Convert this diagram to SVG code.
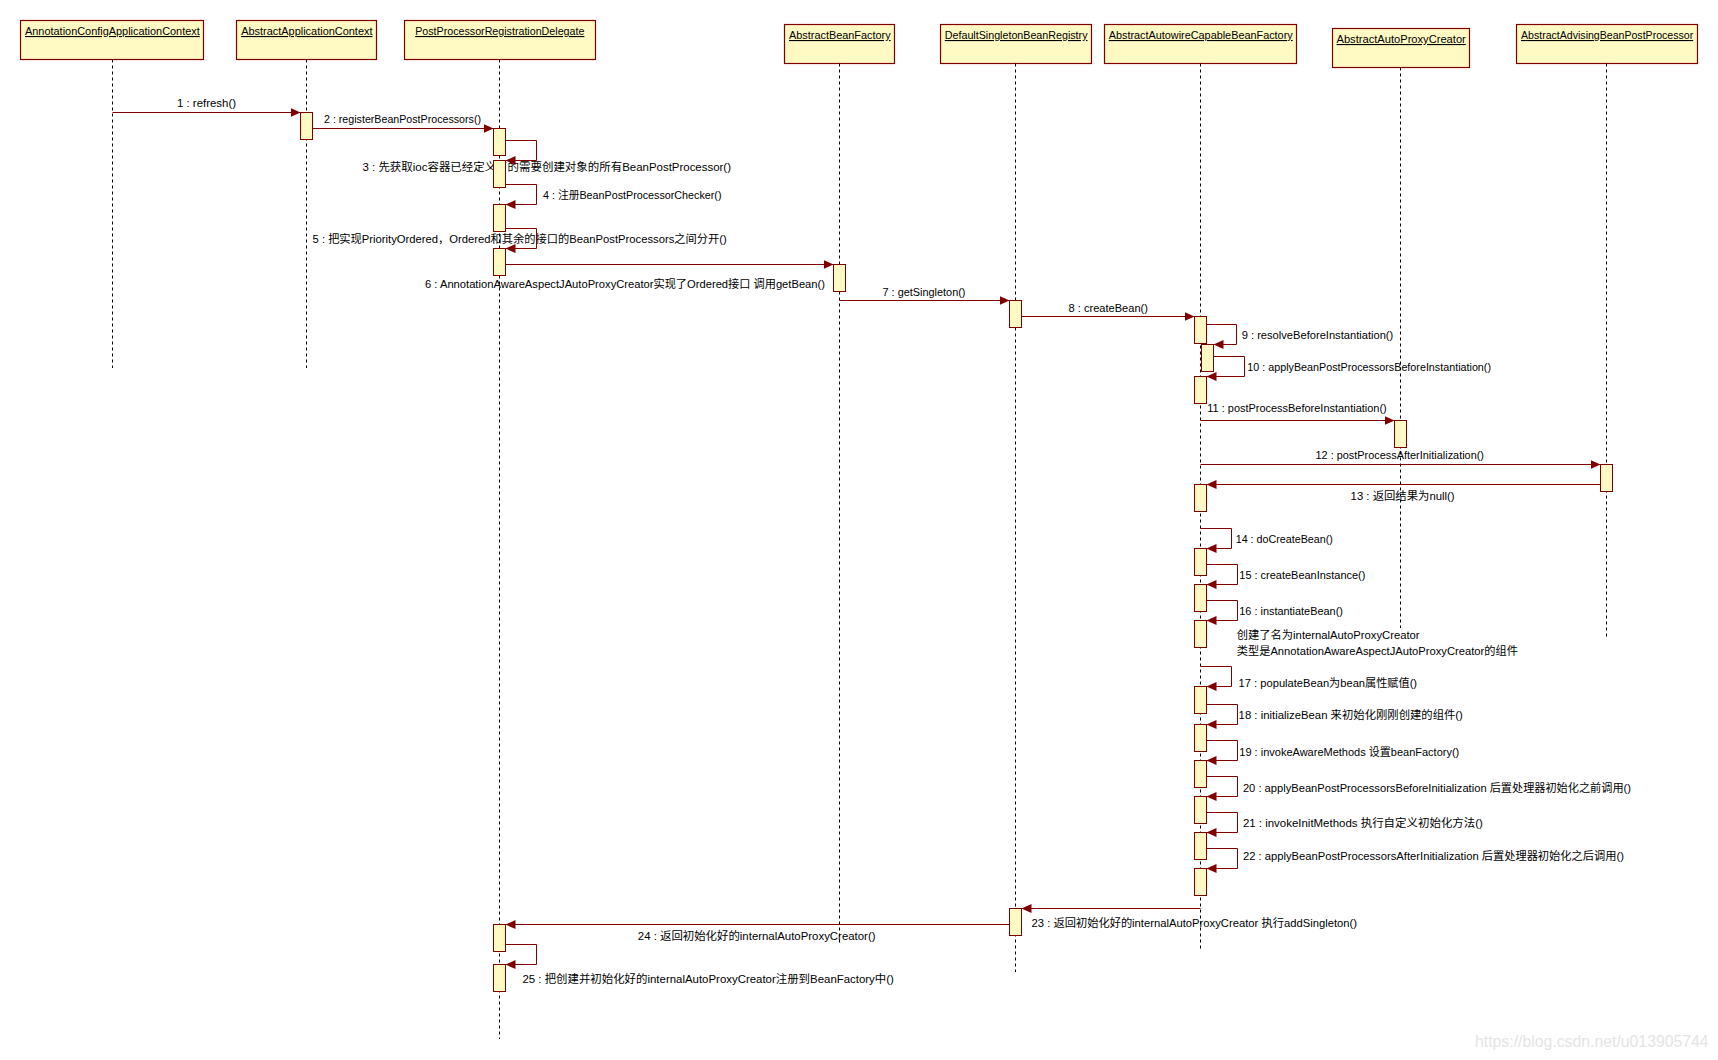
<svg xmlns="http://www.w3.org/2000/svg" width="1718" height="1060" viewBox="0 0 1718 1060">
<style>
text{font-family:"Liberation Sans","Noto Sans CJK SC",sans-serif;font-size:11px;fill:#000}
.hdr{text-decoration:underline}
.box{fill:#fff9c4;stroke:#800000;stroke-width:1.2}
.act{fill:#fff9c4;stroke:#800000;stroke-width:1}
.life{stroke:#000;stroke-width:1;stroke-dasharray:3 3;fill:none}
.msg{stroke:#800000;stroke-width:1;fill:none;marker-end:url(#arr)}
.wm{font-size:15.8px;fill:#e4e4e4}
</style>
<defs>
<marker id="arr" markerUnits="userSpaceOnUse" markerWidth="11" markerHeight="9" refX="10" refY="4.5" orient="auto">
<path d="M0,0 L10,4.5 L0,9 z" fill="#800000"/>
</marker>
</defs>
<rect width="1718" height="1060" fill="#fff"/>

<g id="labels">
<text x="177" y="107" textLength="59" lengthAdjust="spacingAndGlyphs">1 : refresh()</text>
<text x="324" y="123" textLength="157" lengthAdjust="spacingAndGlyphs">2 : registerBeanPostProcessors()</text>
<text x="362.5" y="170.5" textLength="368.5" lengthAdjust="spacingAndGlyphs">3 : 先获取ioc容器已经定义了的需要创建对象的所有BeanPostProcessor()</text>
<text x="543" y="199" textLength="178.5" lengthAdjust="spacingAndGlyphs">4 : 注册BeanPostProcessorChecker()</text>
<text x="312.5" y="243" textLength="414.3" lengthAdjust="spacingAndGlyphs">5 : 把实现PriorityOrdered，Ordered和其余的接口的BeanPostProcessors之间分开()</text>
<text x="425" y="287.5" textLength="400" lengthAdjust="spacingAndGlyphs">6 : AnnotationAwareAspectJAutoProxyCreator实现了Ordered接口 调用getBean()</text>
<text x="882.5" y="295.5" textLength="83" lengthAdjust="spacingAndGlyphs">7 : getSingleton()</text>
<text x="1068.5" y="311.5" textLength="79.5" lengthAdjust="spacingAndGlyphs">8 : createBean()</text>
<text x="1241.7" y="339" textLength="151.6" lengthAdjust="spacingAndGlyphs">9 : resolveBeforeInstantiation()</text>
<text x="1247.3" y="371.3" textLength="243.7" lengthAdjust="spacingAndGlyphs">10 : applyBeanPostProcessorsBeforeInstantiation()</text>
<text x="1207.3" y="412.3" textLength="179.4" lengthAdjust="spacingAndGlyphs">11 : postProcessBeforeInstantiation()</text>
<text x="1315.5" y="459.3" textLength="168.5" lengthAdjust="spacingAndGlyphs">12 : postProcessAfterInitialization()</text>
<text x="1350.6" y="499.7" textLength="104" lengthAdjust="spacingAndGlyphs">13 : 返回结果为null()</text>
<text x="1235.7" y="543.3" textLength="97.2" lengthAdjust="spacingAndGlyphs">14 : doCreateBean()</text>
<text x="1239.3" y="579.3" textLength="126.1" lengthAdjust="spacingAndGlyphs">15 : createBeanInstance()</text>
<text x="1239.3" y="615" textLength="103.6" lengthAdjust="spacingAndGlyphs">16 : instantiateBean()</text>
<text x="1236.8" y="639" textLength="182.8" lengthAdjust="spacingAndGlyphs">创建了名为internalAutoProxyCreator</text>
<text x="1236.8" y="654.7" textLength="281.1" lengthAdjust="spacingAndGlyphs">类型是AnnotationAwareAspectJAutoProxyCreator的组件</text>
<text x="1238.6" y="687.3" textLength="178.5" lengthAdjust="spacingAndGlyphs">17 : populateBean为bean属性赋值()</text>
<text x="1238.6" y="719" textLength="224.3" lengthAdjust="spacingAndGlyphs">18 : initializeBean 来初始化刚刚创建的组件()</text>
<text x="1239.3" y="755.7" textLength="220" lengthAdjust="spacingAndGlyphs">19 : invokeAwareMethods 设置beanFactory()</text>
<text x="1242.9" y="791.7" textLength="388.1" lengthAdjust="spacingAndGlyphs">20 : applyBeanPostProcessorsBeforeInitialization 后置处理器初始化之前调用()</text>
<text x="1242.9" y="827.3" textLength="240" lengthAdjust="spacingAndGlyphs">21 : invokeInitMethods 执行自定义初始化方法()</text>
<text x="1242.9" y="860" textLength="381" lengthAdjust="spacingAndGlyphs">22 : applyBeanPostProcessorsAfterInitialization 后置处理器初始化之后调用()</text>
<text x="1031.6" y="927.3" textLength="325.4" lengthAdjust="spacingAndGlyphs">23 : 返回初始化好的internalAutoProxyCreator 执行addSingleton()</text>
<text x="637.8" y="939.7" textLength="237.7" lengthAdjust="spacingAndGlyphs">24 : 返回初始化好的internalAutoProxyCreator()</text>
<text x="522.4" y="983.3" textLength="371.5" lengthAdjust="spacingAndGlyphs">25 : 把创建并初始化好的internalAutoProxyCreator注册到BeanFactory中()</text>
</g>

<g id="node-AnnotationConfigApplicationContext">
<rect class="box" x="20.5" y="20.5" width="183" height="39"/>
<text class="hdr" x="25" y="35" textLength="174.8" lengthAdjust="spacingAndGlyphs">AnnotationConfigApplicationContext</text>
<line class="life" x1="112.5" y1="59.5" x2="112.5" y2="368"/>
</g>

<g id="node-AbstractApplicationContext">
<rect class="box" x="236.5" y="20.5" width="140" height="39"/>
<text class="hdr" x="241.2" y="35" textLength="131.3" lengthAdjust="spacingAndGlyphs">AbstractApplicationContext</text>
<line class="life" x1="306.5" y1="59.5" x2="306.5" y2="368"/>
<rect class="act" x="300.5" y="112.5" width="12" height="27"/>
</g>

<g id="node-PostProcessorRegistrationDelegate">
<rect class="box" x="404.5" y="20.5" width="191" height="39"/>
<text class="hdr" x="415.2" y="35" textLength="169.2" lengthAdjust="spacingAndGlyphs">PostProcessorRegistrationDelegate</text>
<line class="life" x1="499.5" y1="59.5" x2="499.5" y2="1039"/>
<rect class="act" x="493.5" y="128.5" width="12" height="27"/>
<rect class="act" x="493.5" y="160.5" width="12" height="27"/>
<rect class="act" x="493.5" y="204.5" width="12" height="27"/>
<rect class="act" x="493.5" y="248.5" width="12" height="27"/>
<rect class="act" x="493.5" y="924.5" width="12" height="27"/>
<rect class="act" x="493.5" y="964.5" width="12" height="27"/>
</g>

<g id="node-AbstractBeanFactory">
<rect class="box" x="784.5" y="24.5" width="110" height="39"/>
<text class="hdr" x="789" y="39" textLength="101.6" lengthAdjust="spacingAndGlyphs">AbstractBeanFactory</text>
<line class="life" x1="839.5" y1="63.5" x2="839.5" y2="943"/>
<rect class="act" x="833.5" y="264.5" width="12" height="27"/>
</g>

<g id="node-DefaultSingletonBeanRegistry">
<rect class="box" x="940.5" y="24.5" width="151" height="39"/>
<text class="hdr" x="944.8" y="39" textLength="142.7" lengthAdjust="spacingAndGlyphs">DefaultSingletonBeanRegistry</text>
<line class="life" x1="1015.5" y1="63.5" x2="1015.5" y2="972"/>
<rect class="act" x="1009.5" y="300.5" width="12" height="27"/>
<rect class="act" x="1009.5" y="908.5" width="12" height="27"/>
</g>

<g id="node-AbstractAutowireCapableBeanFactory">
<rect class="box" x="1104.5" y="24.5" width="192" height="39"/>
<text class="hdr" x="1108.7" y="39" textLength="184" lengthAdjust="spacingAndGlyphs">AbstractAutowireCapableBeanFactory</text>
<line class="life" x1="1200.5" y1="63.5" x2="1200.5" y2="949"/>
<rect class="act" x="1194.5" y="316.5" width="12" height="27"/>
<rect class="act" x="1201.5" y="344.5" width="12" height="27"/>
<rect class="act" x="1194.5" y="376.5" width="12" height="27"/>
<rect class="act" x="1194.5" y="484.5" width="12" height="27"/>
<rect class="act" x="1194.5" y="548.5" width="12" height="27"/>
<rect class="act" x="1194.5" y="584.5" width="12" height="27"/>
<rect class="act" x="1194.5" y="620.5" width="12" height="27"/>
<rect class="act" x="1194.5" y="686.5" width="12" height="27"/>
<rect class="act" x="1194.5" y="724.5" width="12" height="27"/>
<rect class="act" x="1194.5" y="760.5" width="12" height="27"/>
<rect class="act" x="1194.5" y="796.5" width="12" height="27"/>
<rect class="act" x="1194.5" y="832.5" width="12" height="27"/>
<rect class="act" x="1194.5" y="868.5" width="12" height="27"/>
</g>

<g id="node-AbstractAutoProxyCreator">
<rect class="box" x="1332.5" y="28.5" width="137" height="39"/>
<text class="hdr" x="1336.5" y="43" textLength="129.3" lengthAdjust="spacingAndGlyphs">AbstractAutoProxyCreator</text>
<line class="life" x1="1400.5" y1="67.5" x2="1400.5" y2="628"/>
<rect class="act" x="1394.5" y="420.5" width="12" height="27"/>
</g>

<g id="node-AbstractAdvisingBeanPostProcessor">
<rect class="box" x="1516.5" y="24.5" width="181" height="39"/>
<text class="hdr" x="1521" y="39" textLength="172.2" lengthAdjust="spacingAndGlyphs">AbstractAdvisingBeanPostProcessor</text>
<line class="life" x1="1606.5" y1="63.5" x2="1606.5" y2="637"/>
<rect class="act" x="1600.5" y="464.5" width="12" height="27"/>
</g>

<g id="connectors">
<line class="msg" x1="112.5" y1="112.5" x2="300.5" y2="112.5"/>
<line class="msg" x1="312.5" y1="128.5" x2="493.5" y2="128.5"/>
<polyline class="msg" points="505.5,140.5 536.5,140.5 536.5,160.5 505.5,160.5"/>
<polyline class="msg" points="505.5,184.5 536.5,184.5 536.5,204.5 505.5,204.5"/>
<polyline class="msg" points="505.5,228.5 536.5,228.5 536.5,248.5 505.5,248.5"/>
<line class="msg" x1="505.5" y1="264.5" x2="833.5" y2="264.5"/>
<line class="msg" x1="839.5" y1="300.5" x2="1009.5" y2="300.5"/>
<line class="msg" x1="1021.5" y1="316.5" x2="1194.5" y2="316.5"/>
<polyline class="msg" points="1206.5,324.5 1236.5,324.5 1236.5,344.5 1213.5,344.5"/>
<polyline class="msg" points="1213.5,356.5 1244.5,356.5 1244.5,376.5 1206.5,376.5"/>
<line class="msg" x1="1200.5" y1="420.5" x2="1394.5" y2="420.5"/>
<line class="msg" x1="1200.5" y1="464.5" x2="1600.5" y2="464.5"/>
<line class="msg" x1="1600.5" y1="484.5" x2="1206.5" y2="484.5"/>
<polyline class="msg" points="1200.5,528.5 1231.5,528.5 1231.5,548.5 1206.5,548.5"/>
<polyline class="msg" points="1206.5,564.5 1237.5,564.5 1237.5,584.5 1206.5,584.5"/>
<polyline class="msg" points="1206.5,600.5 1237.5,600.5 1237.5,620.5 1206.5,620.5"/>
<polyline class="msg" points="1200.5,666.5 1231.5,666.5 1231.5,686.5 1206.5,686.5"/>
<polyline class="msg" points="1206.5,704.5 1237.5,704.5 1237.5,724.5 1206.5,724.5"/>
<polyline class="msg" points="1206.5,740.5 1237.5,740.5 1237.5,760.5 1206.5,760.5"/>
<polyline class="msg" points="1206.5,776.5 1237.5,776.5 1237.5,796.5 1206.5,796.5"/>
<polyline class="msg" points="1206.5,812.5 1237.5,812.5 1237.5,832.5 1206.5,832.5"/>
<polyline class="msg" points="1206.5,848.5 1237.5,848.5 1237.5,868.5 1206.5,868.5"/>
<line class="msg" x1="1200.5" y1="908.5" x2="1021.5" y2="908.5"/>
<line class="msg" x1="1009.5" y1="924.5" x2="505.5" y2="924.5"/>
<polyline class="msg" points="505.5,944.5 536.5,944.5 536.5,964.5 505.5,964.5"/>
</g>

<text class="wm" x="1475" y="1047">https://blog.csdn.net/u013905744</text>
</svg>
